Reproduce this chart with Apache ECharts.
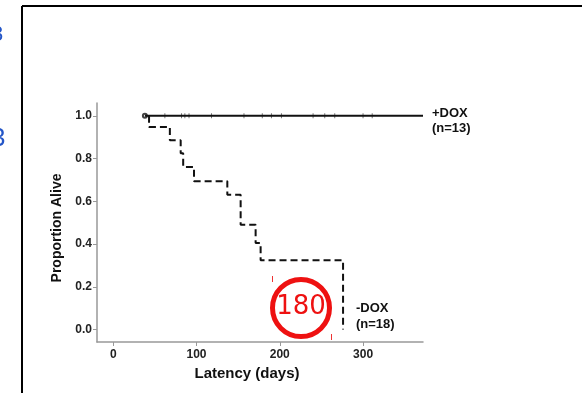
<!DOCTYPE html>
<html>
<head>
<meta charset="utf-8">
<script src="https://cdn.jsdelivr.net/npm/echarts@6/dist/echarts.min.js"></script>
<style>
html,body{margin:0;padding:0;background:#fff;}
#survivalChart{width:582px;height:393px;}
</style>
</head>
<body>
<div id="survivalChart"></div>
<script>
// Kaplan-Meier curves
var xTicks = [0, 100, 200, 300];
var yTicks = [0, 0.2, 0.4, 0.6, 0.8, 1.0];

// +DOX: nobody dies, flat at 1.0
var plusDays = [38, 372];
var plusSurv = [1.0, 1.0];
var plusCensorDays = [62, 82, 86, 91, 118, 157, 179, 190, 202, 240, 254, 266, 300, 311];

// -DOX: step curve
var minusDays = [43, 43, 68, 81, 84, 97, 137, 153, 171, 177, 276];
var minusSurv = [1.0, 0.948, 0.886, 0.825, 0.761, 0.694, 0.631, 0.491, 0.405, 0.324, 0.0];
var minusMarkDays = [43, 68, 81, 84, 97, 137, 153, 153, 171, 177, 276];
var minusMarkSurv = [0.948, 0.886, 0.825, 0.761, 0.694, 0.631, 0.568, 0.491, 0.405, 0.324, 0.0];

var zip = function (a, b) {
    return a.map(function (v, i) { return [v, b[i]]; });
};

var chart = echarts.init(document.getElementById("survivalChart"));
var font = 'Liberation Sans, Arial, sans-serif';

option = {
    animation: false,
    grid: {left: 97, top: 103, right: 159, bottom: 51},
    xAxis: {
        type: 'value',
        min: -19.5,
        max: 372,
        name: 'Latency (days)',
        nameLocation: 'middle',
        nameGap: 21,
        nameTextStyle: {fontFamily: font, fontWeight: 'bold', fontSize: 15, color: '#111', padding: [0, 26, 0, 0]},
        axisLine: {onZero: false, lineStyle: {color: '#999', width: 1.5}},
        axisTick: {show: true, length: 4, lineStyle: {color: '#999'}, customValues: xTicks},
        axisLabel: {customValues: xTicks, margin: 7, fontFamily: font, fontWeight: 'bold', fontSize: 12, color: '#222'},
        splitLine: {show: false}
    },
    yAxis: {
        type: 'value',
        min: -0.058,
        max: 1.06,
        name: 'Proportion Alive',
        nameLocation: 'middle',
        nameGap: 30,
        nameTextStyle: {fontFamily: font, fontWeight: 'bold', fontSize: 14, color: '#111', padding: [0, 11, 0, 0]},
        axisLine: {show: true, onZero: false, lineStyle: {color: '#999', width: 1.5}},
        axisTick: {show: true, length: 4, lineStyle: {color: '#999'}, customValues: yTicks},
        axisLabel: {
            customValues: yTicks, margin: 5, fontFamily: font, fontWeight: 'bold', fontSize: 12, color: '#222',
            formatter: function (v) { return v.toFixed(1); }
        },
        splitLine: {show: false}
    },
    series: [
        {
            name: '+DOX',
            type: 'line',
            data: zip(plusDays, plusSurv),
            symbol: 'none',
            lineStyle: {color: '#111', width: 2}
        },
        {
            name: '+DOX censored',
            type: 'scatter',
            data: plusCensorDays.map(function (d) { return [d, 1.0]; }),
            symbol: 'rect',
            symbolSize: [1, 5],
            itemStyle: {color: '#555'}
        },
        {
            name: '+DOX start',
            type: 'scatter',
            data: [[plusDays[0], plusSurv[0]]],
            symbol: 'emptyCircle',
            symbolSize: 4,
            itemStyle: {color: '#111', borderWidth: 1}
        },
        {
            name: '-DOX',
            type: 'line',
            step: 'end',
            data: zip(minusDays, minusSurv),
            symbol: 'none',
            lineStyle: {color: '#111', width: 2, type: [7, 4]}
        },
        {
            name: '-DOX marks',
            type: 'scatter',
            data: zip(minusMarkDays, minusMarkSurv),
            symbol: 'emptyCircle',
            symbolSize: 5,
            itemStyle: {color: '#fff', borderColor: '#333', borderWidth: 1}
        }
    ],
    graphic: [
        // frame of the page the figure was cut from
        {type: 'line', shape: {x1: 22, y1: 6, x2: 582, y2: 6}, style: {stroke: '#000', lineWidth: 2}},
        {type: 'line', shape: {x1: 22, y1: 6, x2: 22, y2: 393}, style: {stroke: '#000', lineWidth: 2}},
        {type: 'text', left: -9, top: 24, style: {text: '3', font: '22px ' + font, fill: '#2456c8'}},
        {type: 'text', left: -9, top: 126, style: {text: '3', font: '26px ' + font, fill: '#2456c8'}},
        // curve labels
        {type: 'text', left: 432, top: 106, style: {text: '+DOX\n(n=13)', font: 'bold 13px ' + font, fill: '#111', lineHeight: 15}},
        {type: 'text', left: 356, top: 300, style: {text: '-DOX\n(n=18)', font: 'bold 13px ' + font, fill: '#111', lineHeight: 16}},
        // red annotation
        {type: 'circle', shape: {cx: 301, cy: 308, r: 28.5}, style: {fill: 'none', stroke: '#ee1111', lineWidth: 5}},
        {type: 'text', x: 301, y: 307, style: {text: '180', font: '26px DejaVu Sans, sans-serif', fill: '#ee1111', align: 'center', verticalAlign: 'middle'}},
        {type: 'line', shape: {x1: 272.5, y1: 276, x2: 272.5, y2: 282}, style: {stroke: '#ee3333', lineWidth: 1}},
        {type: 'line', shape: {x1: 331.5, y1: 334, x2: 331.5, y2: 340}, style: {stroke: '#ee3333', lineWidth: 1}}
    ]
};
chart.setOption(option);
</script>
</body>
</html>
